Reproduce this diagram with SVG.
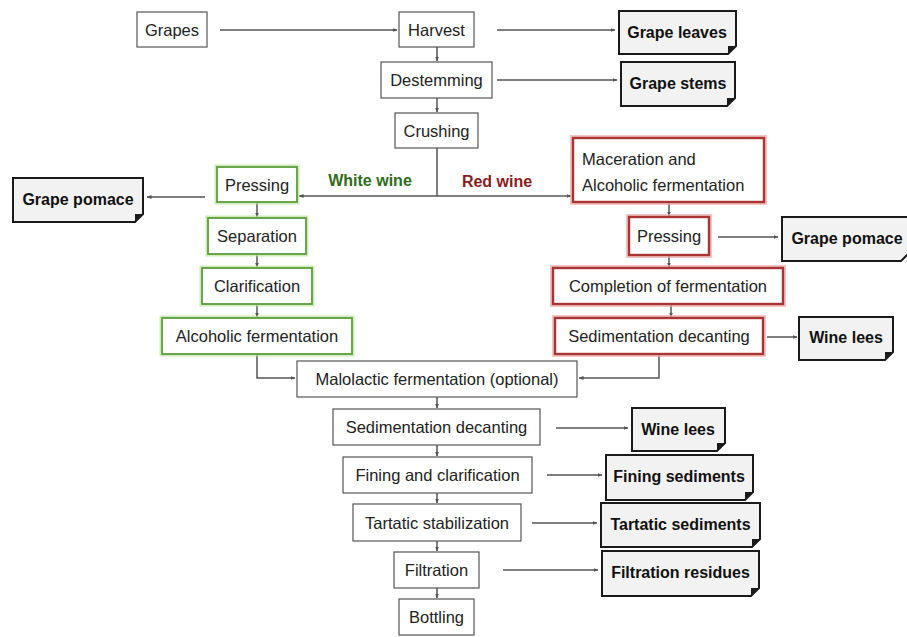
<svg xmlns="http://www.w3.org/2000/svg" width="907" height="637" viewBox="0 0 907 637">
<defs>
<style>
.bx{fill:#fff;stroke:#555;stroke-width:1.2}
.gg{fill:none;stroke:#b9e59c;stroke-width:5;stroke-opacity:.7}
.gb{fill:#fff;stroke:#5f9c3c;stroke-width:1.8}
.rg{fill:none;stroke:#f0a9a9;stroke-width:6;stroke-opacity:.7}
.rb{fill:#fff;stroke:#a83434;stroke-width:2.4}
.wb{fill:#f2f2f2;stroke:#1a1a1a;stroke-width:2}
.fold{fill:#1a1a1a}
.t{font-family:"Liberation Sans",Arial,sans-serif;font-size:16.5px;fill:#222;text-anchor:middle}
.tl{font-family:"Liberation Sans",Arial,sans-serif;font-size:16.5px;fill:#222}
.tb{font-family:"Liberation Sans",Arial,sans-serif;font-size:16px;font-weight:bold;fill:#111;text-anchor:middle}
.c{fill:none;stroke:#555;stroke-width:1.5}
</style>
<marker id="ah" viewBox="0 0 10 10" refX="9" refY="5" markerWidth="5" markerHeight="5" orient="auto" markerUnits="userSpaceOnUse">
<path d="M0,1 L10,5 L0,9 Z" fill="#555"/>
</marker>
</defs>
<rect width="907" height="637" fill="#fff"/>

<g id="connectors">
<path class="c" d="M220,30 H397" marker-end="url(#ah)"/>
<path class="c" d="M497,30 H615" marker-end="url(#ah)"/>
<path class="c" d="M497,80 H617" marker-end="url(#ah)"/>
<path class="c" d="M437,47 V61" marker-end="url(#ah)"/>
<path class="c" d="M437,98 V112" marker-end="url(#ah)"/>
<path class="c" d="M437,148 V196"/>
<path class="c" d="M437,196 H299" marker-end="url(#ah)"/>
<path class="c" d="M437,196 H571" marker-end="url(#ah)"/>
<path class="c" d="M205,197 H147" marker-end="url(#ah)"/>
<path class="c" d="M257,202 V217" marker-end="url(#ah)"/>
<path class="c" d="M257,254 V267" marker-end="url(#ah)"/>
<path class="c" d="M257,304 V317" marker-end="url(#ah)"/>
<path class="c" d="M257,354 V378 H295" marker-end="url(#ah)"/>
<path class="c" d="M669,202 V216" marker-end="url(#ah)"/>
<path class="c" d="M718,237 H778" marker-end="url(#ah)"/>
<path class="c" d="M669,255 V267" marker-end="url(#ah)"/>
<path class="c" d="M671,304 V317" marker-end="url(#ah)"/>
<path class="c" d="M767,337 H797" marker-end="url(#ah)"/>
<path class="c" d="M659,354 V378 H579" marker-end="url(#ah)"/>
<path class="c" d="M437,397 V408" marker-end="url(#ah)"/>
<path class="c" d="M556,428 H628" marker-end="url(#ah)"/>
<path class="c" d="M437,445 V456" marker-end="url(#ah)"/>
<path class="c" d="M547,475 H602" marker-end="url(#ah)"/>
<path class="c" d="M437,493 V503" marker-end="url(#ah)"/>
<path class="c" d="M532,523 H597" marker-end="url(#ah)"/>
<path class="c" d="M437,541 V551" marker-end="url(#ah)"/>
<path class="c" d="M503,570 H598" marker-end="url(#ah)"/>
<path class="c" d="M437,588 V598" marker-end="url(#ah)"/>
</g>

<g id="label-white"><text x="370" y="186" class="tb" style="fill:#2f6b1a">White wine</text></g>
<g id="label-red"><text x="497" y="187" class="tb" style="fill:#8b1c1c">Red wine</text></g>

<g id="grapes"><rect class="bx" x="137" y="12" width="70" height="35"/><text class="t" x="172" y="35.5">Grapes</text></g>
<g id="harvest"><rect class="bx" x="399" y="12" width="75" height="35"/><text class="t" x="436.5" y="35.5">Harvest</text></g>
<g id="destemming"><rect class="bx" x="381" y="62" width="111" height="36"/><text class="t" x="436.5" y="86">Destemming</text></g>
<g id="crushing"><rect class="bx" x="395" y="113" width="83" height="35"/><text class="t" x="436.5" y="136.5">Crushing</text></g>

<g id="grape-leaves"><path class="wb" d="M619,11 H736 V46 L728,54 H619 Z"/><path class="fold" d="M736,46 L728,54 L728,46 Z"/><text class="tb" x="677" y="38">Grape leaves</text></g>
<g id="grape-stems"><path class="wb" d="M621,62 H735 V98 L727,106 H621 Z"/><path class="fold" d="M735,98 L727,106 L727,98 Z"/><text class="tb" x="678" y="89">Grape stems</text></g>

<g id="pressing-white"><rect class="gg" x="217" y="167" width="80" height="35"/><rect class="gb" x="217" y="167" width="80" height="35"/><text class="t" x="257" y="190.5">Pressing</text></g>
<g id="separation"><rect class="gg" x="208" y="218" width="98" height="36"/><rect class="gb" x="208" y="218" width="98" height="36"/><text class="t" x="257" y="242">Separation</text></g>
<g id="clarification"><rect class="gg" x="202" y="268" width="110" height="36"/><rect class="gb" x="202" y="268" width="110" height="36"/><text class="t" x="257" y="292">Clarification</text></g>
<g id="alcoholic-white"><rect class="gg" x="162" y="318" width="190" height="36"/><rect class="gb" x="162" y="318" width="190" height="36"/><text class="t" x="257" y="342">Alcoholic fermentation</text></g>

<g id="grape-pomace-left"><path class="wb" d="M13,178 H143 V214 L135,222 H13 Z"/><path class="fold" d="M143,214 L135,222 L135,214 Z"/><text class="tb" x="78" y="205">Grape pomace</text></g>

<g id="maceration"><rect class="rg" x="573" y="138" width="191" height="64"/><rect class="rb" x="573" y="138" width="191" height="64"/><text class="tl" x="582" y="165">Maceration and</text><text class="tl" x="582" y="191">Alcoholic fermentation</text></g>
<g id="pressing-red"><rect class="rg" x="629" y="217" width="80" height="38"/><rect class="rb" x="629" y="217" width="80" height="38"/><text class="t" x="669" y="242">Pressing</text></g>
<g id="grape-pomace-right"><path class="wb" d="M782,217 H909 V253 L901,261 H782 Z"/><text class="tb" x="847" y="244">Grape pomace</text></g>
<g id="completion"><rect class="rg" x="553" y="268" width="230" height="36"/><rect class="rb" x="553" y="268" width="230" height="36"/><text class="t" x="668" y="292">Completion of fermentation</text></g>
<g id="sedimentation-red"><rect class="rg" x="555" y="318" width="208" height="36"/><rect class="rb" x="555" y="318" width="208" height="36"/><text class="t" x="659" y="342">Sedimentation decanting</text></g>
<g id="wine-lees-right"><path class="wb" d="M799,317 H893 V352 L885,360 H799 Z"/><path class="fold" d="M893,352 L885,360 L885,352 Z"/><text class="tb" x="846" y="343">Wine lees</text></g>

<g id="malolactic"><rect class="bx" x="297" y="361" width="280" height="36"/><text class="t" x="437" y="385">Malolactic fermentation (optional)</text></g>
<g id="sedimentation"><rect class="bx" x="333" y="409" width="207" height="36"/><text class="t" x="436.5" y="433">Sedimentation decanting</text></g>
<g id="wine-lees"><path class="wb" d="M632,408 H725 V443 L717,451 H632 Z"/><path class="fold" d="M725,443 L717,451 L717,443 Z"/><text class="tb" x="678" y="435">Wine lees</text></g>
<g id="fining"><rect class="bx" x="343" y="457" width="189" height="36"/><text class="t" x="437.5" y="481">Fining and clarification</text></g>
<g id="fining-sediments"><path class="wb" d="M606,455 H753 V492 L745,500 H606 Z"/><path class="fold" d="M753,492 L745,500 L745,492 Z"/><text class="tb" x="679" y="482">Fining sediments</text></g>
<g id="tartatic"><rect class="bx" x="353" y="504" width="168" height="37"/><text class="t" x="437" y="528.5">Tartatic stabilization</text></g>
<g id="tartatic-sediments"><path class="wb" d="M601,503 H760 V539 L752,547 H601 Z"/><path class="fold" d="M760,539 L752,547 L752,539 Z"/><text class="tb" x="680.5" y="530">Tartatic sediments</text></g>
<g id="filtration"><rect class="bx" x="394" y="552" width="85" height="36"/><text class="t" x="436.5" y="576">Filtration</text></g>
<g id="filtration-residues"><path class="wb" d="M602,551 H759 V588 L751,596 H602 Z"/><path class="fold" d="M759,588 L751,596 L751,588 Z"/><text class="tb" x="680.5" y="578">Filtration residues</text></g>
<g id="bottling"><rect class="bx" x="399" y="599" width="75" height="36"/><text class="t" x="436.5" y="623">Bottling</text></g>
</svg>
